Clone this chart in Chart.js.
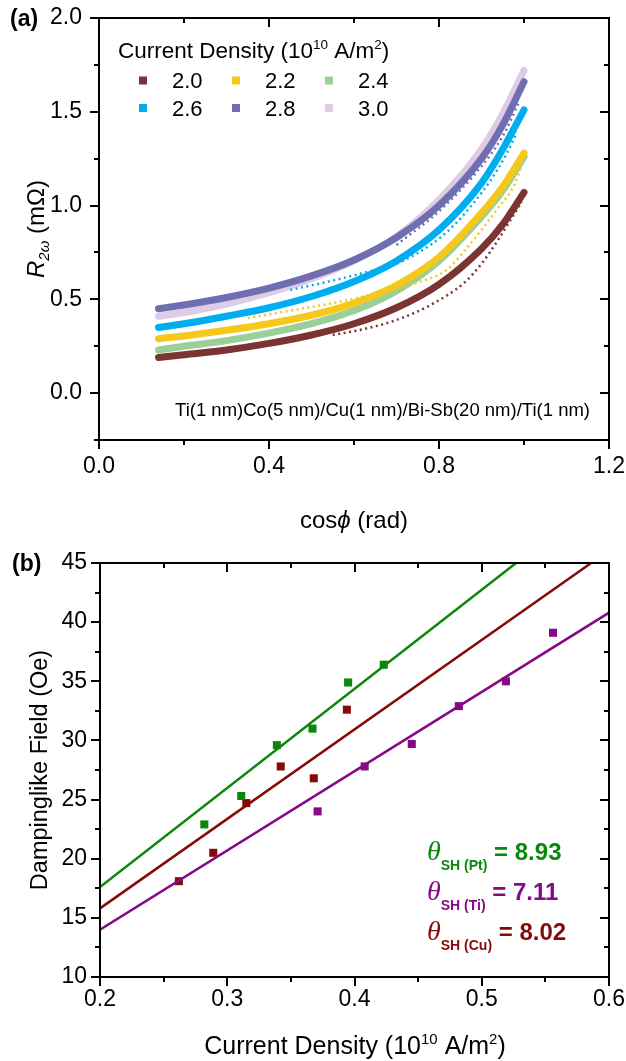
<!DOCTYPE html>
<html><head><meta charset="utf-8">
<script src="https://cdn.jsdelivr.net/npm/chart.js@4.4.0/dist/chart.umd.min.js"></script>
<style>
html,body{margin:0;padding:0;background:#fff;}
#wrap{position:relative;width:626px;height:1061px;overflow:hidden;}
canvas{position:absolute;left:0;}
#ca{top:0;} #cb{top:540px;}
</style></head><body>
<div id="wrap">
<canvas id="ca" width="626" height="540"></canvas>
<canvas id="cb" width="626" height="521"></canvas>
</div>
<script>
// ---------- Panel (a) data ----------
const densityLabels = ['2.0','2.2','2.4','2.6','2.8','3.0'];
const densityColors = ['#7B3431','#F6C81C','#9BCF98','#00AEEF','#6E6EB0','#DECBE6'];
const cosPhi = [0.14,0.2,0.3,0.4,0.5,0.6,0.7,0.8,0.9,0.95,1.0];
const fit20 = [0.19,0.205,0.23,0.265,0.31,0.37,0.455,0.58,0.77,0.90,1.07];
const fit22 = [0.29,0.305,0.335,0.37,0.415,0.48,0.575,0.725,0.96,1.10,1.28];
const fit24 = [0.23,0.25,0.28,0.32,0.37,0.44,0.545,0.705,0.94,1.08,1.26];
const fit26 = [0.35,0.37,0.41,0.455,0.515,0.595,0.705,0.87,1.12,1.30,1.51];
const fit28 = [0.45,0.47,0.51,0.56,0.625,0.71,0.83,1.00,1.25,1.43,1.66];
const fit30 = [0.41,0.43,0.475,0.535,0.61,0.705,0.835,1.03,1.30,1.49,1.72];
// raw (dotted) traces
const raw20X = [0.55,0.62,0.70,0.78,0.86,0.90,0.94,0.97,0.995];
const raw20Y = [0.31,0.34,0.39,0.47,0.59,0.69,0.82,0.93,1.02];
const raw22X = [0.35,0.45,0.55,0.65,0.75,0.82,0.86,0.90,0.94,0.975,0.995];
const raw22Y = [0.40,0.44,0.48,0.53,0.59,0.66,0.76,0.87,0.99,1.10,1.21];
const raw26X = [0.45,0.55,0.62,0.70,0.78,0.833,0.88,0.92,0.96,0.983];
const raw26Y = [0.55,0.60,0.64,0.69,0.79,0.89,1.01,1.13,1.28,1.39];
const raw28X = [0.70,0.80,0.90,0.95,0.99];
const raw28Y = [0.79,0.97,1.21,1.37,1.56];

// ---------- Panel (b) data ----------
const jPt = [0.282,0.311,0.339,0.367,0.395,0.423];
const hPt = [22.9,25.3,29.6,31.0,34.9,36.4];
const jCu = [0.262,0.289,0.315,0.342,0.368,0.394];
const hCu = [18.1,20.5,24.7,27.8,26.8,32.6];
const jTi = [0.371,0.408,0.445,0.482,0.519,0.556];
const hTi = [24.0,27.8,29.7,32.9,35.0,39.1];
const fitPtX = [0.2,0.527], fitPtY = [17.6,45];
const fitCuX = [0.2,0.586], fitCuY = [15.8,45];
const fitTiX = [0.2,0.6],   fitTiY = [14.0,40.8];
const thetaLabels = [['(Pt)','8.93','#0B870B'],['(Ti)','7.11','#850A85'],['(Cu)','8.02','#850A0A']];

const FF = '"Liberation Sans", Arial, sans-serif';
const pts = (xs, ys) => xs.map((x,i)=>({x, y: ys[i]}));

function rich(ctx, parts, x, y, align) {
  let w = 0;
  for (const p of parts) { ctx.font = p[1]; w += ctx.measureText(p[0]).width; }
  let cx = align === 'center' ? x - w/2 : (align === 'right' ? x - w : x);
  ctx.textBaseline = 'alphabetic'; ctx.textAlign = 'left';
  for (const p of parts) {
    ctx.font = p[1];
    if (p[3]) ctx.fillStyle = p[3];
    ctx.fillText(p[0], cx, y + (p[2] || 0));
    cx += ctx.measureText(p[0]).width;
  }
}

function fixedAxis(size) {
  return function(scale) {
    if (scale.isHorizontal()) scale.height = size; else scale.width = size;
    scale.paddingLeft = 0; scale.paddingRight = 0; scale.paddingTop = 0; scale.paddingBottom = 0;
  };
}

const framePlugin = {
  id: 'frame',
  afterDraw(chart, args, o) {
    const ctx = chart.ctx, a = chart.chartArea, xs = chart.scales.x, ys = chart.scales.y;
    ctx.save();
    ctx.strokeStyle = '#000'; ctx.lineWidth = 2; ctx.lineCap = 'butt';
    ctx.strokeRect(a.left, a.top, a.right - a.left, a.bottom - a.top);
    const line = (x1,y1,x2,y2)=>{ctx.beginPath();ctx.moveTo(x1,y1);ctx.lineTo(x2,y2);ctx.stroke();};
    const isMaj = (v, m) => Math.abs(v/m - Math.round(v/m)) < 1e-6;
    const nx = Math.round((o.xMax - o.xMin)/o.xMinor);
    for (let i = 0; i <= nx; i++) {
      const v = o.xMin + i*o.xMinor; const L = isMaj(v, o.xMajor) ? 9 : 5;
      const px = Math.round(xs.getPixelForValue(v));
      line(px, a.bottom, px, a.bottom + L);
      line(px, a.top, px, a.top + L);
    }
    const ny = Math.round((o.yMax - o.yMin)/o.yMinor);
    for (let i = 0; i <= ny; i++) {
      const v = o.yMin + i*o.yMinor; const L = isMaj(v, o.yMajor) ? 9 : 5;
      const py = Math.round(ys.getPixelForValue(v));
      line(a.left - L, py, a.left, py);
      line(a.right - L, py, a.right, py);
    }
    ctx.restore();
  }
};

// ---------- Chart (a) ----------
const fitsA = [fit20, fit22, fit24, fit26, fit28, fit30];
const dsA = [];
const raws = [[raw20X, raw20Y, 0], [raw22X, raw22Y, 1], [raw26X, raw26Y, 3], [raw28X, raw28Y, 4]];
for (const r of raws) {
  dsA.push({ label: 'raw ' + densityLabels[r[2]], data: pts(r[0], r[1]), showLine: true,
    borderColor: densityColors[r[2]], borderWidth: 2.5, borderDash: [2, 3.5], pointRadius: 0,
    cubicInterpolationMode: 'monotone', fill: false });
}
for (let i = 0; i < 6; i++) {
  dsA.push({ label: densityLabels[i], data: pts(cosPhi, fitsA[i]), showLine: true,
    borderColor: densityColors[i], borderWidth: 7, pointRadius: 0, borderCapStyle: 'round',
    cubicInterpolationMode: 'monotone', fill: false });
}

const textA = {
  id: 'textA',
  afterDraw(chart) {
    const ctx = chart.ctx; ctx.save(); ctx.fillStyle = '#000';
    rich(ctx, [['(a)', 'bold 23px ' + FF]], 10, 26, 'left');
    // legend
    rich(ctx, [['Current Density (10', '22.5px ' + FF], ['10', '13.5px ' + FF, -9], [' A/m', '22.5px ' + FF], ['2', '13.5px ' + FF, -9], [')', '22.5px ' + FF]], 118, 58, 'left');
    const colX = [143, 236, 329], rowY = [80.5, 108];
    for (let i = 0; i < 6; i++) {
      const cx = colX[i % 3], cy = rowY[Math.floor(i / 3)];
      ctx.fillStyle = densityColors[i]; ctx.fillRect(cx - 4, cy - 4, 8, 8);
      ctx.fillStyle = '#000';
      rich(ctx, [[densityLabels[i], '22px ' + FF]], cx + 29, cy + 7.5, 'left');
    }
    rich(ctx, [['Ti(1 nm)Co(5 nm)/Cu(1 nm)/Bi-Sb(20 nm)/Ti(1 nm)', '18.5px ' + FF]], 590, 416, 'right');
    rich(ctx, [['cos', '24px ' + FF], ['\u03D5', 'italic 24px ' + FF], [' (rad)', '24px ' + FF]], 354, 528, 'center');
    ctx.translate(44, 229); ctx.rotate(-Math.PI / 2);
    rich(ctx, [['R', 'italic 24px ' + FF], ['2\u03C9', 'italic 15px ' + FF, 5], [' (m\u03A9)', '24px ' + FF]], 0, 0, 'center');
    ctx.restore();
  }
};

new Chart(document.getElementById('ca'), {
  type: 'scatter',
  data: { datasets: dsA },
  options: {
    responsive: false, animation: false,
    layout: { padding: { left: 0, right: 17, top: 18, bottom: 0 } },
    plugins: { legend: { display: false }, tooltip: { enabled: false },
      frame: { xMin: 0, xMax: 1.2, xMinor: 0.2, xMajor: 0.4, yMin: -0.25, yMax: 2.0, yMinor: 0.25, yMajor: 0.5 } },
    scales: {
      x: { type: 'linear', min: 0, max: 1.2, afterFit: fixedAxis(100),
        grid: { display: false, drawTicks: false }, border: { display: false },
        ticks: { stepSize: 0.4, padding: 13, color: '#000', font: { family: FF, size: 23 }, callback: v => v.toFixed(1) } },
      y: { type: 'linear', min: -0.25, max: 2.0, afterFit: fixedAxis(99),
        grid: { display: false, drawTicks: false }, border: { display: false },
        ticks: { stepSize: 0.5, includeBounds: false, padding: 17, color: '#000', font: { family: FF, size: 23 },
          callback: v => (Math.abs(v*2 - Math.round(v*2)) < 1e-6 ? v.toFixed(1) : '') } }
    }
  },
  plugins: [framePlugin, textA]
});

// ---------- Chart (b) ----------
const textB = {
  id: 'textB',
  afterDraw(chart) {
    const ctx = chart.ctx; ctx.save(); ctx.fillStyle = '#000';
    rich(ctx, [['(b)', 'bold 23px ' + FF]], 12, 31, 'left');
    rich(ctx, [['Current Density (10', '25px ' + FF], ['10', '15px ' + FF, -10], [' A/m', '25px ' + FF], ['2', '15px ' + FF, -10], [')', '25px ' + FF]], 355, 514, 'center');
    const by = [320, 360, 400];
    for (let i = 0; i < 3; i++) {
      const t = thetaLabels[i];
      rich(ctx, [['\u03B8', 'italic 28px "Liberation Serif", serif', 0, t[2]], ['SH ' + t[0], 'bold 14px ' + FF, 10], [' = ' + t[1], 'bold 24px ' + FF, 0]], 427, by[i], 'left');
    }
    ctx.fillStyle = '#000';
    ctx.translate(47, 230); ctx.rotate(-Math.PI / 2);
    rich(ctx, [['Dampinglike Field (Oe)', '23.5px ' + FF]], 0, 0, 'center');
    ctx.restore();
  }
};

const scatterDs = (label, xs, ys, c) => ({ label, data: pts(xs, ys), showLine: false, pointStyle: 'rect',
  pointRadius: 5.7, backgroundColor: c, borderColor: c, borderWidth: 0 });
const lineDs = (label, xs, ys, c) => ({ label, data: pts(xs, ys), showLine: true, borderColor: c,
  borderWidth: 2.5, pointRadius: 0, fill: false });

new Chart(document.getElementById('cb'), {
  type: 'scatter',
  data: { datasets: [
    lineDs('fit Pt', fitPtX, fitPtY, '#0B870B'),
    lineDs('fit Cu', fitCuX, fitCuY, '#850A0A'),
    lineDs('fit Ti', fitTiX, fitTiY, '#850A85'),
    scatterDs('Pt', jPt, hPt, '#0B870B'),
    scatterDs('Cu', jCu, hCu, '#850A0A'),
    scatterDs('Ti', jTi, hTi, '#850A85')
  ] },
  options: {
    responsive: false, animation: false,
    layout: { padding: { left: 0, right: 17, top: 23, bottom: 0 } },
    plugins: { legend: { display: false }, tooltip: { enabled: false },
      frame: { xMin: 0.2, xMax: 0.6, xMinor: 0.05, xMajor: 0.1, yMin: 10, yMax: 45, yMinor: 2.5, yMajor: 5 } },
    scales: {
      x: { type: 'linear', min: 0.2, max: 0.6, afterFit: fixedAxis(84),
        grid: { display: false, drawTicks: false }, border: { display: false },
        ticks: { stepSize: 0.1, padding: 9, color: '#000', font: { family: FF, size: 23 }, callback: v => v.toFixed(1) } },
      y: { type: 'linear', min: 10, max: 45, afterFit: fixedAxis(100),
        grid: { display: false, drawTicks: false }, border: { display: false },
        ticks: { stepSize: 5, padding: 13, color: '#000', font: { family: FF, size: 23 } } }
    }
  },
  plugins: [framePlugin, textB]
});
</script>
</body></html>
